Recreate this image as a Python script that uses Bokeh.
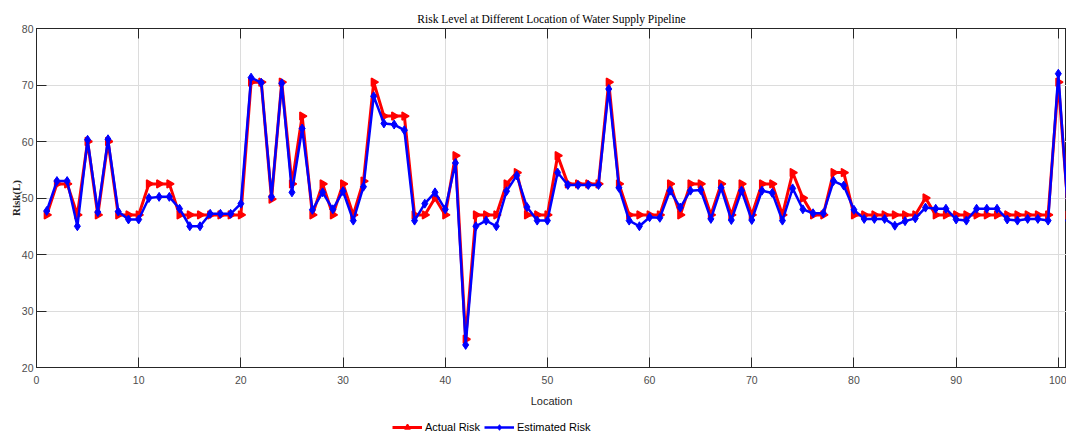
import numpy as np
from bokeh.plotting import figure
from bokeh.layouts import column
from bokeh.models import Range1d, LinearAxis, Legend, LegendItem, FixedTicker
from bokeh.embed import file_html
from bokeh.resources import INLINE

title_text = "Risk Level at Different Location of Water Supply Pipeline"
x_label = "Location"
y_label = "Risk(L)"
series_names = ["Actual Risk", "Estimated Risk"]
x_ticks = [0, 10, 20, 30, 40, 50, 60, 70, 80, 90, 100]
y_ticks = [20, 30, 40, 50, 60, 70, 80]

locations = list(range(1, 102))
actual_risk = [
    47, 52.5, 52.5, 47, 60, 47, 60, 47, 47, 47,
    52.5, 52.5, 52.5, 47, 47, 47, 47, 47, 47, 47,
    70.5, 70.5, 49.8, 70.5, 52.5, 64.5, 47, 52.5, 47, 52.5,
    47, 53, 70.5, 64.5, 64.5, 64.5, 47, 47, 50, 47,
    57.5, 25, 47, 47, 47, 52.5, 54.5, 47, 47, 47,
    57.5, 52.5, 52.5, 52.5, 52.5, 70.5, 52.5, 47, 47, 47,
    47, 52.5, 47, 52.5, 52.5, 47, 52.5, 47, 52.5, 47,
    52.5, 52.5, 47, 54.5, 50, 47, 47, 54.5, 54.5, 47,
    47, 47, 47, 47, 47, 47, 50, 47, 47, 47,
    47, 47, 47, 47, 47, 47, 47, 47, 47, 70.5,
    47,
]
estimated_risk = [
    47.7, 53, 53, 45, 60.3, 47.5, 60.4, 47.6, 46.2, 46.2,
    50, 50.2, 50.2, 48.1, 45, 45, 47.2, 47.2, 47.2, 49,
    71.3, 70.4, 50.2, 70.3, 51, 62.3, 47.9, 51, 48, 51.2,
    46, 52, 68, 63.2, 63, 62, 46, 49, 51, 48,
    56.2, 24, 45, 46, 45, 51.2, 54, 48.4, 46, 46,
    54.5, 52.3, 52.3, 52.3, 52.3, 69.3, 51.8, 46, 45, 46.6,
    46.5, 51.3, 48.3, 51.3, 51.4, 46.3, 51.8, 46.1, 51.3, 46.1,
    51.3, 50.9, 46, 51.7, 48, 47.3, 47.3, 53, 52.2, 47.9,
    46.3, 46.3, 46.3, 45.1, 45.9, 46.4, 48.3, 48.1, 48.1, 46.2,
    46, 48.1, 48.1, 48.1, 46.2, 46, 46.3, 46.3, 46, 72,
    46,
]

SANS = "Liberation Sans"
SERIF = "Liberation Serif"
FRAME = "#262626"
RED = "#ff0000"
BLUE = "#0000ff"


def draw_series(fig):
    rl = fig.line(locations, actual_risk, line_color=RED, line_width=3)
    rm = fig.scatter(locations, actual_risk, marker="triangle", angle=-np.pi / 2, size=8,
                     fill_color=RED, line_color=RED, line_width=1.5)
    bl = fig.line(locations, estimated_risk, line_color=BLUE, line_width=2.5)
    bm = fig.scatter(locations, estimated_risk, marker="diamond", size=9,
                     fill_color=BLUE, line_color=BLUE)
    return rl, rm, bl, bm


p = figure(width=1066, height=413, output_backend="svg", toolbar_location=None,
           x_range=Range1d(0, 100.8), y_range=Range1d(20, 80),
           min_border_left=36, min_border_right=0, min_border_top=28, min_border_bottom=46)
p.outline_line_color = FRAME
p.outline_line_width = 1
p.background_fill_color = "white"
p.border_fill_color = "white"

for ax in p.xaxis + p.yaxis:
    ax.major_tick_in = 10
    ax.major_tick_out = 0
    ax.minor_tick_in = 0
    ax.minor_tick_out = 0
    ax.axis_line_color = FRAME
    ax.major_tick_line_color = FRAME
    ax.major_label_text_font = SANS
    ax.major_label_text_font_size = "10.5px"
    ax.major_label_text_color = "#4d4d4d"
p.xaxis.ticker = FixedTicker(ticks=x_ticks)
p.yaxis.ticker = FixedTicker(ticks=y_ticks)
p.xaxis.major_label_standoff = 8
p.yaxis.major_label_standoff = 3

p.xaxis.axis_label = x_label
p.xaxis.axis_label_standoff = 8
p.xaxis.axis_label_text_font = SANS
p.xaxis.axis_label_text_font_size = "11px"
p.xaxis.axis_label_text_font_style = "normal"
p.xaxis.axis_label_text_color = FRAME

p.yaxis.axis_label = y_label
p.yaxis.axis_label_standoff = -3
p.yaxis.axis_label_text_font = SERIF
p.yaxis.axis_label_text_font_size = "11px"
p.yaxis.axis_label_text_font_style = "bold"
p.yaxis.axis_label_text_color = FRAME

top = LinearAxis(ticker=FixedTicker(ticks=x_ticks),
                 major_label_overrides={t: "" for t in x_ticks},
                 major_label_standoff=0,
                 major_tick_in=10, major_tick_out=0, minor_tick_in=0, minor_tick_out=0,
                 axis_line_color=FRAME, major_tick_line_color=FRAME,
                 axis_label=title_text, axis_label_standoff=4,
                 axis_label_text_font=SERIF, axis_label_text_font_size="11.5px",
                 axis_label_text_font_style="normal", axis_label_text_color="black")
p.add_layout(top, "above")

p.xgrid.ticker = FixedTicker(ticks=x_ticks)
p.ygrid.ticker = FixedTicker(ticks=y_ticks)
p.grid.grid_line_color = "#dcdcdc"
p.grid.grid_line_width = 1

draw_series(p)

# Legend strip below the chart (same series, drawn out of view so only the legend shows)
lg = figure(width=1066, height=22, output_backend="svg", toolbar_location=None,
            x_range=Range1d(1000, 1001), y_range=Range1d(1000, 1001),
            x_axis_type=None, y_axis_type=None,
            min_border_left=0, min_border_right=0, min_border_top=0, min_border_bottom=0)
lg.outline_line_color = None
lg.grid.visible = False
lg.background_fill_color = "white"
lg.border_fill_color = "white"
rl, rm, bl, bm = draw_series(lg)

legend = Legend(items=[LegendItem(label=series_names[0], renderers=[rl, rm]),
                       LegendItem(label=series_names[1], renderers=[bl, bm])],
                orientation="horizontal", location=(356, 1),
                glyph_width=30, glyph_height=14, label_standoff=3, spacing=4,
                padding=0, margin=0, border_line_color=None, background_fill_alpha=0,
                label_text_font=SANS, label_text_font_size="11px", label_text_color="black")
lg.add_layout(legend, "center")

layout = column(p, lg, spacing=0)
open("out.html", "w").write(file_html(layout, INLINE))
